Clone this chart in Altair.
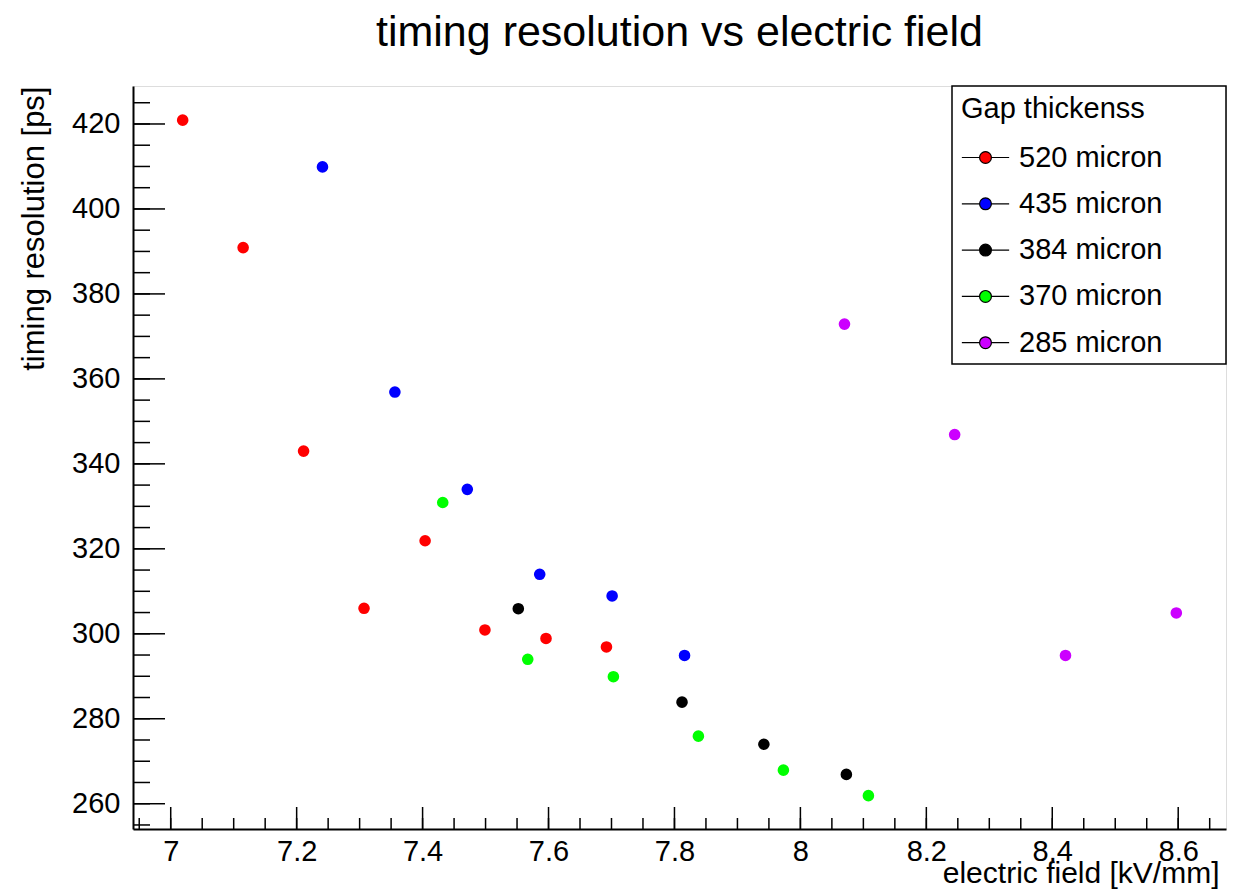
import altair as alt
import pandas as pd

# ---------------- data ----------------
series_names = ["520 micron", "435 micron", "384 micron", "370 micron", "285 micron"]
series_colors = ["#ff0000", "#0000ff", "#000000", "#00ff00", "#cc00ff"]

field_520 = [7.019, 7.115, 7.211, 7.307, 7.404, 7.499, 7.596, 7.692]
res_520 = [420.9, 390.9, 343.0, 306.0, 321.9, 300.9, 298.9, 296.9]
field_435 = [7.241, 7.356, 7.471, 7.586, 7.701, 7.816]
res_435 = [409.9, 356.9, 334.0, 314.0, 308.9, 294.9]
field_384 = [7.552, 7.812, 7.942, 8.073]
res_384 = [305.9, 283.9, 274.0, 266.9]
field_370 = [7.432, 7.567, 7.703, 7.838, 7.973, 8.108]
res_370 = [330.9, 294.0, 289.9, 275.9, 267.9, 261.9]
field_285 = [8.070, 8.245, 8.421, 8.597]
res_285 = [372.9, 346.9, 294.9, 304.9]

x_major = [7.0, 7.2, 7.4, 7.6, 7.8, 8.0, 8.2, 8.4, 8.6]
x_minor = [round(6.95 + 0.05 * i, 2) for i in range(35)]
y_major = [260, 280, 300, 320, 340, 360, 380, 400, 420]
y_minor = [255 + 5 * i for i in range(35)]

x_domain = [6.9401, 8.6759]
y_domain = [254.05, 428.94]

# ---------------- build table ----------------
rows = []
for name, xs, ys in zip(series_names,
                        [field_520, field_435, field_384, field_370, field_285],
                        [res_520, res_435, res_384, res_370, res_285]):
    for xv, yv in zip(xs, ys):
        rows.append({"field": xv, "res": yv, "gap": name})
df = pd.DataFrame(rows)

W, H = 1093, 743
FONT = "Liberation Sans"

xscale = alt.Scale(domain=x_domain, nice=False, zero=False)
yscale = alt.Scale(domain=y_domain, nice=False, zero=False)

xaxis = alt.Axis(values=x_major, labelExpr="'' + datum.value", ticks=False, tickSize=0,
                 grid=False, domain=True, domainColor="black", domainWidth=2,
                 labelFont=FONT, labelFontSize=29, labelColor="black",
                 labelPadding=31, labelBaseline="alphabetic",
                 labelFlush=False, labelOverlap=False,
                 title="electric field [kV/mm]", titleFont=FONT, titleFontSize=30,
                 titleFontWeight="normal", titleColor="black",
                 titleX=W - 7, titleY=53, titleAlign="right", titleBaseline="alphabetic")
yaxis = alt.Axis(values=y_major, labelExpr="'' + datum.value", ticks=False, tickSize=0,
                 grid=False, domain=True, domainColor="black", domainWidth=2,
                 labelFont=FONT, labelFontSize=29, labelColor="black",
                 labelPadding=13, labelFlush=False, labelOverlap=False,
                 title="timing resolution [ps]", titleFont=FONT, titleFontSize=31,
                 titleFontWeight="normal", titleColor="black",
                 titleAngle=270, titleX=-90, titleY=0, titleAlign="right",
                 titleBaseline="alphabetic")

legend_symbol = ("M-1,0H-0.25M0.25,0H1M-0.25,0A0.25,0.25,0,1,1,0.25,0"
                 "A0.25,0.25,0,1,1,-0.25,0Z")

LEG_X = 819

# legend frame
frame = alt.Chart(pd.DataFrame({"k": [0]})).mark_rect(
    fill="white", stroke="black", strokeWidth=1.5
).encode(x=alt.value(LEG_X), x2=alt.value(W), y=alt.value(0), y2=alt.value(278))

points = alt.Chart(df).mark_circle(size=135, opacity=1).encode(
    x=alt.X("field:Q", scale=xscale, axis=xaxis),
    y=alt.Y("res:Q", scale=yscale, axis=yaxis),
    color=alt.Color("gap:N",
                    scale=alt.Scale(domain=series_names, range=series_colors),
                    legend=alt.Legend(orient="none", legendX=LEG_X, legendY=0,
                                      title="Gap thickenss", titleFont=FONT,
                                      titleFontSize=29, titleFontWeight="normal",
                                      titleColor="black", titlePadding=9,
                                      titleLimit=400,
                                      labelFont=FONT, labelFontSize=29,
                                      labelColor="black", labelOffset=9,
                                      labelLimit=400,
                                      symbolType=legend_symbol, symbolSize=2237,
                                      symbolStrokeColor="black",
                                      symbolStrokeWidth=1.2, symbolOpacity=1,
                                      padding=9, rowPadding=6.3)),
)

ytick_major = alt.Chart(pd.DataFrame({"v": y_major})).mark_rule(
    color="black", strokeWidth=1.5
).encode(y=alt.Y("v:Q", scale=yscale, axis=yaxis), x=alt.value(0), x2=alt.value(32))
ytick_minor = alt.Chart(pd.DataFrame({"v": y_minor})).mark_rule(
    color="black", strokeWidth=1.5
).encode(y=alt.Y("v:Q", scale=yscale, axis=yaxis), x=alt.value(0), x2=alt.value(17))
xtick_major = alt.Chart(pd.DataFrame({"v": x_major})).mark_rule(
    color="black", strokeWidth=1.5
).encode(x=alt.X("v:Q", scale=xscale, axis=xaxis), y=alt.value(H), y2=alt.value(H - 22))
xtick_minor = alt.Chart(pd.DataFrame({"v": x_minor})).mark_rule(
    color="black", strokeWidth=1.5
).encode(x=alt.X("v:Q", scale=xscale, axis=xaxis), y=alt.value(H), y2=alt.value(H - 11))

chart = alt.layer(
    ytick_minor, ytick_major, xtick_minor, xtick_major, frame, points
).properties(
    width=W, height=H,
    title=alt.TitleParams("timing resolution vs electric field", font=FONT,
                          fontSize=43, fontWeight="normal", color="black",
                          anchor="middle", frame="group", baseline="alphabetic",
                          offset=43, dy=47),
    autosize=alt.AutoSizeParams(type="none"),
    padding={"left": 133, "top": 86, "right": 24, "bottom": 67},
).configure_view(
    stroke="black", strokeWidth=1.5
).configure(background="white")

chart.save("out.html", embed_options={"renderer": "svg", "actions": False})
